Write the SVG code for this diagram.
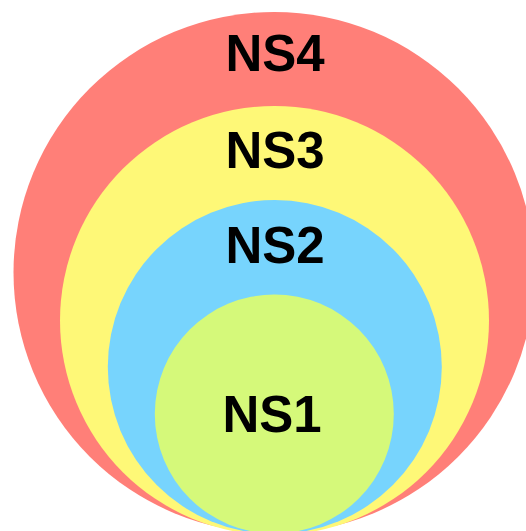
<svg xmlns="http://www.w3.org/2000/svg" width="526" height="531" viewBox="0 0 526 531">
  <style>
    .label { font-family: "Liberation Sans", Arial, sans-serif; font-weight: bold; font-size: 51px; fill: #000; text-anchor: middle; }
  </style>
  <rect width="526" height="531" fill="#ffffff"/>
  <!-- nested namespaces, outermost first; all touch at the bottom -->
  <g id="ns4">
    <circle cx="274" cy="272.5" r="260.5" fill="#FF7F78"/>
    <text class="label" x="275" y="71">NS4</text>
  </g>
  <g id="ns3">
    <circle cx="274.5" cy="320.5" r="214.5" fill="#FEF877"/>
    <text class="label" x="275" y="168">NS3</text>
  </g>
  <g id="ns2">
    <circle cx="274.8" cy="367" r="167" fill="#77D4FD"/>
    <text class="label" x="275" y="263">NS2</text>
  </g>
  <g id="ns1">
    <circle cx="274.3" cy="414" r="119.5" fill="#D5F97A"/>
    <text class="label" x="272" y="432">NS1</text>
  </g>
</svg>
